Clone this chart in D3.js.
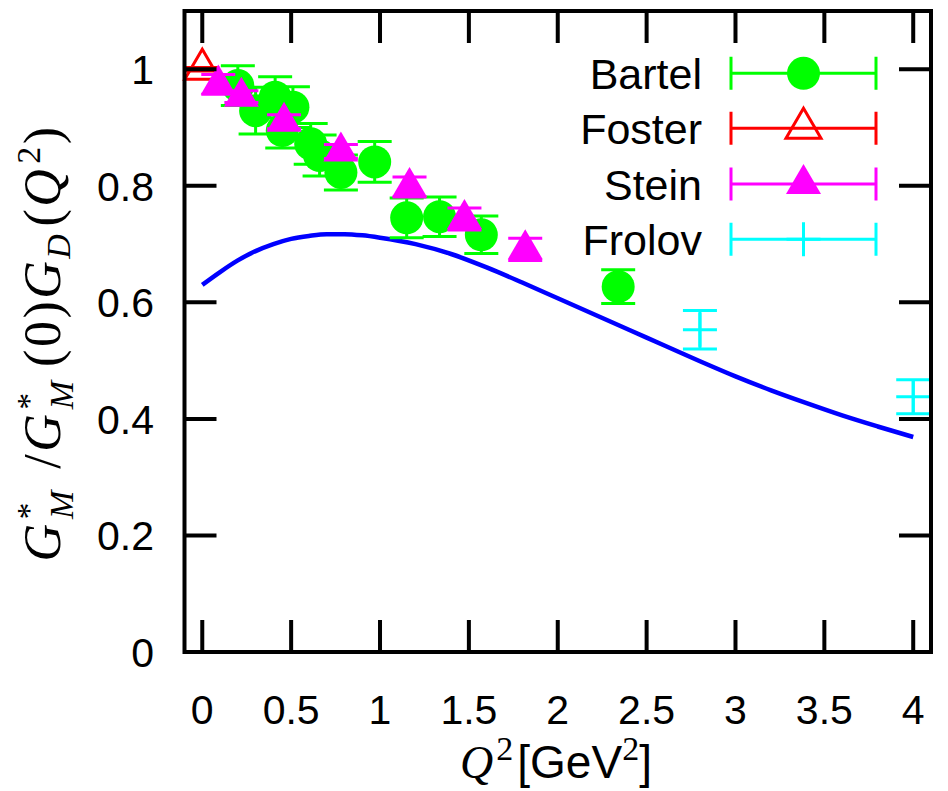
<!DOCTYPE html>
<html>
<head>
<meta charset="utf-8">
<script src="https://cdn.jsdelivr.net/npm/d3@7"></script>
<style>
  body { margin: 0; background: #fff; }
</style>
</head>
<body>
<div id="chart"></div>
<script>
// ---- data ----
const xTicks = [0, 0.5, 1, 1.5, 2, 2.5, 3, 3.5, 4];
const xTickLabels = ["0", "0.5", "1", "1.5", "2", "2.5", "3", "3.5", "4"];
const yTicks = [0, 0.2, 0.4, 0.6, 0.8, 1];
const yTickLabels = ["0", "0.2", "0.4", "0.6", "0.8", "1"];

const bartelQ2  = [0.20, 0.30, 0.41, 0.51, 0.45, 0.61, 0.66, 0.78, 0.97, 1.15, 1.335, 1.57, 2.34];
const bartelG   = [0.972, 0.929, 0.952, 0.935, 0.895, 0.872, 0.852, 0.823, 0.841, 0.745, 0.747, 0.716, 0.627];
const bartelErr = [0.034, 0.040, 0.035, 0.035, 0.030, 0.035, 0.035, 0.030, 0.035, 0.034, 0.034, 0.032, 0.029];

const fosterQ2  = [0.0];
const fosterG   = [1.0];
const fosterErr = [0.003];

const steinQ2  = [0.09, 0.22, 0.46, 0.78, 1.166, 1.475, 1.817];
const steinG   = [0.974, 0.953, 0.910, 0.859, 0.798, 0.743, 0.691];
const steinErr = [0.017, 0.010, 0.012, 0.012, 0.017, 0.019, 0.019];

const frolovQ2  = [2.80, 4.00];
const frolovG   = [0.553, 0.438];
const frolovErr = [0.033, 0.029];

const curveQ2 = [0, 0.1, 0.2, 0.3, 0.4, 0.5, 0.6, 0.7, 0.8, 0.9, 1.0, 1.2, 1.4, 1.6, 1.8,
                 2.0, 2.2, 2.4, 2.6, 2.8, 3.0, 3.2, 3.4, 3.6, 3.8, 4.0];
const curveG  = [0.630, 0.652, 0.672, 0.688, 0.700, 0.709, 0.714, 0.717, 0.717, 0.715, 0.711,
                 0.700, 0.683, 0.660, 0.634, 0.607, 0.580, 0.553, 0.526, 0.499, 0.473, 0.449,
                 0.427, 0.406, 0.387, 0.369];

const legendNames = ["Bartel", "Foster", "Stein", "Frolov"];

// ---- layout ----
let width = 948;
let height = 791;
let plotLeft = 184.5, plotRight = 931, plotTop = 11, plotBottom = 652;

let svg = d3.select("#chart").append("svg")
    .attr("width", width)
    .attr("height", height);

let x = d3.scaleLinear().domain([-0.1, 4.1]).range([plotLeft, plotRight]);
let y = d3.scaleLinear().domain([0, 1.1]).range([plotBottom, plotTop]);

const sans = "'Liberation Sans', Arial, sans-serif";
const serif = "'Liberation Serif', 'Times New Roman', serif";
const tickLen = 32;
const capHalf = 17;

// model curve
let line = d3.line()
    .x((d, i) => x(curveQ2[i]))
    .y(d => y(d))
    .curve(d3.curveMonotoneX);

svg.append("path")
    .attr("d", line(curveG))
    .attr("fill", "none")
    .attr("stroke", "#0000ff")
    .attr("stroke-width", 4.5);

// symbols
function circleSym(g, cx, cy, color) {
    g.append("circle").attr("cx", cx).attr("cy", cy).attr("r", 16.5).attr("fill", color);
}
function triPath(cx, cy) {
    return "M" + cx + "," + (cy - 20) + "L" + (cx + 17.5) + "," + (cy + 10) +
           "L" + (cx - 17.5) + "," + (cy + 10) + "Z";
}
function triFilled(g, cx, cy, color) {
    g.append("path").attr("d", triPath(cx, cy)).attr("fill", color);
}
function triOpen(g, cx, cy, color) {
    g.append("path").attr("d", triPath(cx, cy)).attr("fill", "none")
        .attr("stroke", color).attr("stroke-width", 3);
    g.append("circle").attr("cx", cx).attr("cy", cy).attr("r", 1).attr("fill", color);
}
function plusSym(g, cx, cy, color) {
    g.append("path")
        .attr("d", "M" + (cx - capHalf) + "," + cy + "H" + (cx + capHalf) +
                   "M" + cx + "," + (cy - capHalf) + "V" + (cy + capHalf))
        .attr("stroke", color).attr("stroke-width", 3);
}

let series = [
    { q: bartelQ2, g: bartelG, e: bartelErr, color: "#00ff00", sym: circleSym },
    { q: fosterQ2, g: fosterG, e: fosterErr, color: "#ff0000", sym: triOpen },
    { q: steinQ2,  g: steinG,  e: steinErr,  color: "#ff00ff", sym: triFilled },
    { q: frolovQ2, g: frolovG, e: frolovErr, color: "#00ffff", sym: plusSym }
];

series.forEach(function(s) {
    let g = svg.append("g");
    s.q.forEach(function(q, i) {
        let px = x(q), y1 = y(s.g[i] + s.e[i]), y0 = y(s.g[i] - s.e[i]);
        g.append("path")
            .attr("d", "M" + px + "," + y1 + "V" + y0 +
                       "M" + (px - capHalf) + "," + y1 + "H" + (px + capHalf) +
                       "M" + (px - capHalf) + "," + y0 + "H" + (px + capHalf))
            .attr("stroke", s.color).attr("stroke-width", 3).attr("fill", "none");
        s.sym(g, px, y(s.g[i]), s.color);
    });
});

// legend
let legendY = [73.3, 128.3, 184, 239.3];
let lx0 = 731, lx1 = 876, lxm = 803.5;
series.forEach(function(s, i) {
    let g = svg.append("g");
    let ly = legendY[i];
    g.append("text")
        .attr("x", 702).attr("y", ly + 16)
        .attr("text-anchor", "end")
        .style("font-family", sans).style("font-size", "43px")
        .text(legendNames[i]);
    g.append("path")
        .attr("d", "M" + lx0 + "," + ly + "H" + lx1 +
                   "M" + lx0 + "," + (ly - 16.5) + "V" + (ly + 16.5) +
                   "M" + lx1 + "," + (ly - 16.5) + "V" + (ly + 16.5))
        .attr("stroke", s.color).attr("stroke-width", 3);
    s.sym(g, lxm, ly, s.color);
});

// frame and mirrored inward ticks
let axes = svg.append("g").attr("stroke", "#000").attr("stroke-width", 4).attr("fill", "none");
axes.append("rect")
    .attr("x", plotLeft).attr("y", plotTop)
    .attr("width", plotRight - plotLeft).attr("height", plotBottom - plotTop);
xTicks.forEach(function(t) {
    axes.append("path").attr("d", "M" + x(t) + "," + plotBottom + "v" + (-tickLen) +
                                  "M" + x(t) + "," + plotTop + "v" + tickLen);
});
yTicks.forEach(function(t) {
    axes.append("path").attr("d", "M" + plotLeft + "," + y(t) + "h" + tickLen +
                                  "M" + plotRight + "," + y(t) + "h" + (-tickLen));
});

// tick labels
svg.append("g").selectAll("text")
    .data(xTicks)
    .join("text")
    .attr("x", d => x(d))
    .attr("y", 724)
    .attr("text-anchor", "middle")
    .style("font-family", sans).style("font-size", "41px")
    .text((d, i) => xTickLabels[i]);

svg.append("g").selectAll("text")
    .data(yTicks)
    .join("text")
    .attr("x", 154)
    .attr("y", d => y(d) + 15)
    .attr("text-anchor", "end")
    .style("font-family", sans).style("font-size", "41px")
    .text((d, i) => yTickLabels[i]);

// x axis label
let xl = svg.append("text")
    .attr("x", 556).attr("y", 778)
    .attr("text-anchor", "middle")
    .style("font-size", "46px");
xl.append("tspan").style("font-family", serif).style("font-style", "italic").text("Q");
xl.append("tspan").style("font-family", serif).style("font-size", "34px").attr("dx", 3).attr("dy", -18).text("2");
xl.append("tspan").style("font-family", sans).attr("dy", 18).attr("dx", 4).text("[GeV");
xl.append("tspan").style("font-family", serif).style("font-size", "34px").attr("dy", -18).text("2");
xl.append("tspan").style("font-family", sans).attr("dy", 18).text("]");

// y axis label
let yl = svg.append("text")
    .attr("transform", "translate(60,343) rotate(-90)")
    .attr("text-anchor", "middle")
    .style("font-family", serif)
    .style("font-size", "52px")
    .style("letter-spacing", "2.5px");
function gStarM(t) {
    t.append("tspan").style("font-style", "italic").text("G");
    t.append("tspan").style("font-size", "34px").attr("dx", 2).attr("dy", -20).text("*");
    t.append("tspan").style("font-size", "34px").style("font-style", "italic")
        .attr("dx", -19).attr("dy", 33).text("M");
    t.append("tspan").attr("dy", -13).text(" ");
}
gStarM(yl);
yl.append("tspan").attr("dx", 4).text("/");
gStarM(yl);
yl.append("tspan").attr("dx", -4).text("(0)");
yl.append("tspan").style("font-style", "italic").text("G");
yl.append("tspan").style("font-size", "34px").style("font-style", "italic").attr("dy", 10).text("D");
yl.append("tspan").attr("dx", 5).attr("dy", -10).text("(");
yl.append("tspan").style("font-style", "italic").text("Q");
yl.append("tspan").style("font-size", "34px").attr("dx", 3).attr("dy", -20).text("2");
yl.append("tspan").attr("dy", 20).text(")");
</script>
</body>
</html>
